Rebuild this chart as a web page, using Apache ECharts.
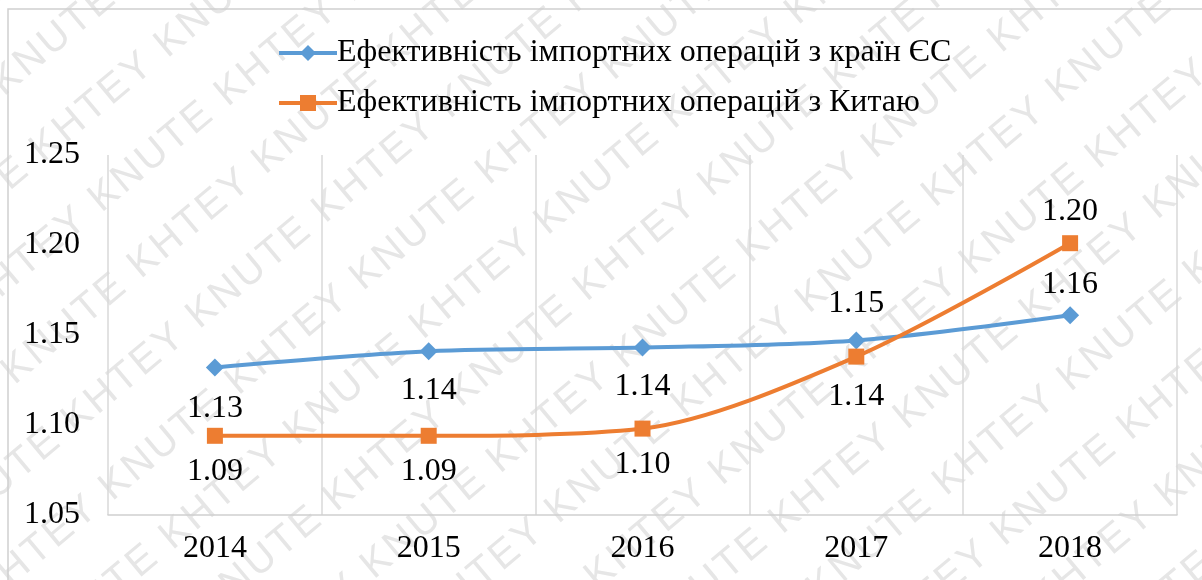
<!DOCTYPE html>
<html>
<head>
<meta charset="utf-8">
<script src="https://cdn.jsdelivr.net/npm/echarts@6/dist/echarts.min.js"></script>
<style>
  html, body { margin: 0; padding: 0; background: #fff; }
  #main { width: 1202px; height: 580px; }
</style>
</head>
<body>
<div id="main"></div>
<script>
let years = ["2014", "2015", "2016", "2017", "2018"];
let euName = "Ефективність імпортних операцій з країн ЄС";
let chinaName = "Ефективність імпортних операцій з Китаю";
let euValues = [1.132, 1.141, 1.143, 1.147, 1.161];
let chinaValues = [1.094, 1.094, 1.098, 1.138, 1.201];

// where each value label sits (side of the point, gap in px)
let euLabelPos = ["bottom", "bottom", "bottom", "top", "top"];
let euLabelGap = [16, 14, 14, 12, 6];
let chinaLabelPos = ["bottom", "bottom", "bottom", "bottom", "top"];
let chinaLabelGap = [12, 12, 12, 16, 8];

// watermark drawn on a page-sized canvas
let wm = document.createElement("canvas");
wm.width = 1202;
wm.height = 580;
let ctx = wm.getContext("2d");
ctx.fillStyle = "#fff";
ctx.fillRect(0, 0, wm.width, wm.height);
ctx.translate(601, 290);
ctx.rotate(-40 * Math.PI / 180);
ctx.font = "40px 'Liberation Sans'";
ctx.fillStyle = "#e6e6e6";
if ("letterSpacing" in ctx) ctx.letterSpacing = "3px";
let wmText = "KHTEY KNUTE KHTEY KNUTE KHTEY KNUTE KHTEY KNUTE KHTEY KNUTE ";
for (let row = -10; row <= 10; row++) {
    let shift = (row % 2) * 150;
    ctx.fillText(wmText, -1000 + shift, row * 76);
}

let dom = document.getElementById("main");
let myChart = echarts.init(dom, null, { renderer: "canvas" });

let font = "'Liberation Serif', 'Times New Roman', serif";

function buildData(values, positions, gaps) {
    return values.map(function (v, i) {
        return { value: v, label: { position: positions[i], distance: gaps[i] } };
    });
}

let labelFmt = function (p) { return p.value.toFixed(2); };

let option = {
    backgroundColor: { image: wm, repeat: "no-repeat" },
    textStyle: { fontFamily: font },
    legend: {
        orient: "vertical",
        left: 272,
        top: 32,
        itemGap: 18,
        itemWidth: 58,
        itemHeight: 20,
        lineStyle: { width: 4 },
        textStyle: { fontSize: 32, color: "#000", fontFamily: font, padding: [0, 0, 0, -5] },
        data: [euName, chinaName],
    },
    grid: { left: 108, right: 25, top: 155, bottom: 65 },
    xAxis: {
        type: "category",
        data: years,
        boundaryGap: true,
        axisLine: { lineStyle: { color: "#d0d0d0", width: 1.5 } },
        axisTick: { show: false },
        axisLabel: { fontSize: 32, color: "#000", margin: 18, fontFamily: font },
        splitLine: { show: true, lineStyle: { color: "#d9d9d9", width: 1.5 } },
    },
    yAxis: {
        type: "value",
        min: 1.05,
        max: 1.25,
        interval: 0.05,
        axisLine: { show: false },
        axisTick: { show: false },
        splitLine: { show: false },
        axisLabel: {
            fontSize: 32,
            color: "#000",
            margin: 28,
            fontFamily: font,
            formatter: function (v) { return v.toFixed(2); },
        },
    },
    series: [
        {
            name: euName,
            type: "line",
            smooth: 0.3,
            data: buildData(euValues, euLabelPos, euLabelGap),
            symbol: "diamond",
            symbolSize: 18,
            itemStyle: { color: "#5b9bd5" },
            lineStyle: { width: 4, color: "#5b9bd5" },
            label: { show: true, fontSize: 32, color: "#000", fontFamily: font, formatter: labelFmt },
            z: 3,
        },
        {
            name: chinaName,
            type: "line",
            smooth: 0.3,
            data: buildData(chinaValues, chinaLabelPos, chinaLabelGap),
            symbol: "rect",
            symbolSize: 16,
            itemStyle: { color: "#ed7d31" },
            lineStyle: { width: 4, color: "#ed7d31" },
            label: { show: true, fontSize: 32, color: "#000", fontFamily: font, formatter: labelFmt },
            z: 4,
        },
    ],
    graphic: [{
        type: "rect",
        shape: { x: 8, y: 9, width: 1200, height: 590 },
        style: { fill: null, stroke: "#d0d0d0", lineWidth: 1.5 },
        silent: true,
    }],
};

if (option && typeof option === "object") {
    myChart.setOption(option);
}

window.addEventListener("resize", myChart.resize);
</script>
</body>
</html>
